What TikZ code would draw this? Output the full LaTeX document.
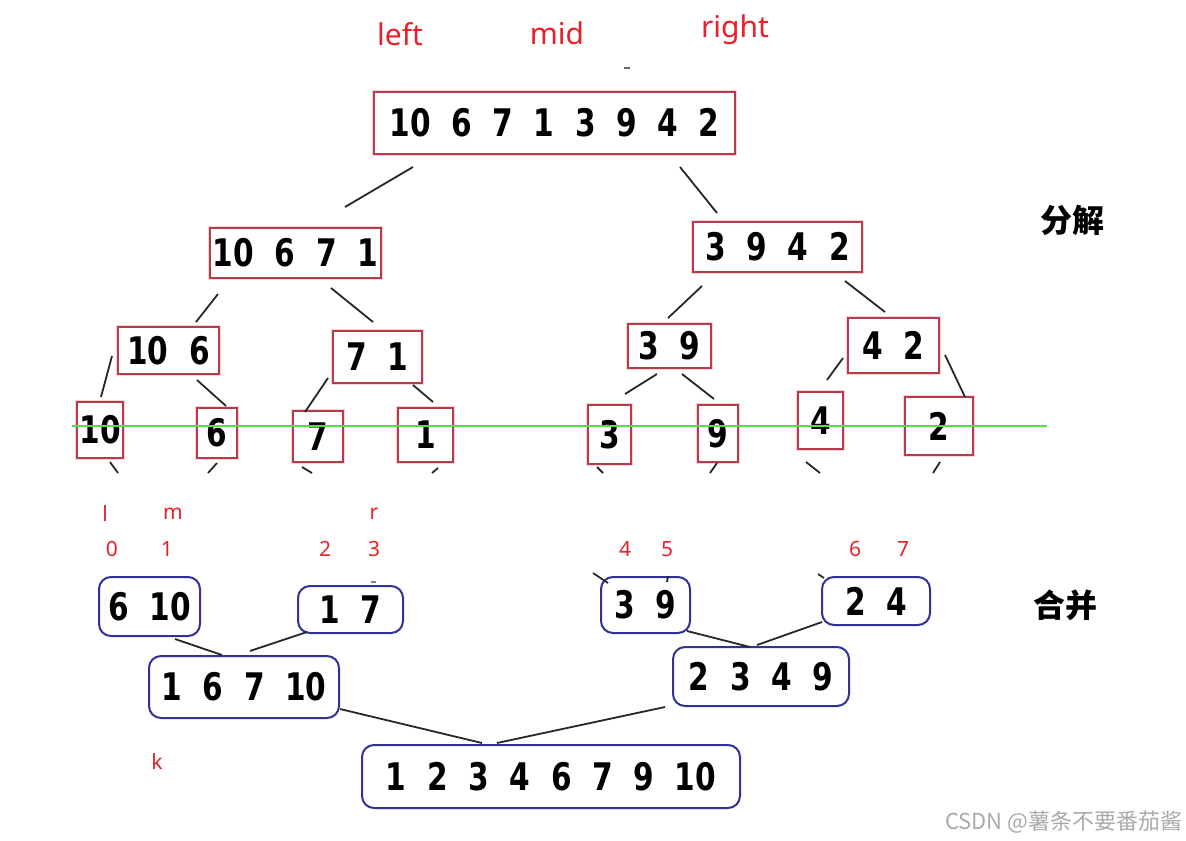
\documentclass[tikz,border=0pt]{standalone}
\usepackage{fontspec}
\setmainfont{DejaVu Sans}
\newfontfamily\dg{DejaVu Sans}[FakeStretch=0.78, WordSpace=2]
\newfontfamily\lab{Noto Sans}
\newfontfamily\cjk{Noto Sans CJK SC}
\definecolor{lred}{RGB}{232,32,40}
\definecolor{rbord}{RGB}{180,60,75}
\definecolor{rhalo}{RGB}{248,212,216}
\definecolor{bbord}{RGB}{50,50,150}
\definecolor{gline}{RGB}{80,225,70}
\definecolor{wm}{RGB}{170,170,170}
\tikzset{
  rbox/.style={draw=rbord, line width=0.9pt, preaction={draw=rhalo, line width=2.4pt},
    fill=white, inner sep=0pt, font=\dg\bfseries\fontsize{19}{19}\selectfont},
  bbox/.style={draw=bbord, line width=1pt, rounded corners=6pt, fill=white,
    inner sep=0pt, font=\dg\bfseries\fontsize{19}{19}\selectfont},
  conn/.style={line width=0.9pt, black!85},
  redlab/.style={text=lred, font=\lab\fontsize{15}{15}\selectfont, inner sep=0pt},
  idx/.style={text=lred, font=\lab\fontsize{10.5}{10.5}\selectfont, inner sep=0pt},
  zh/.style={font=\cjk\bfseries\fontsize{16}{16}\selectfont, inner sep=0pt},
}
\begin{document}
\begin{tikzpicture}[x=0.5pt, y=-0.5pt]
\useasboundingbox (0,0) rectangle (1186,840);
% top labels
\node[redlab] (lleft) at (400,34) {left};
\node[redlab] (lmid) at (557,33) {mid};
\node[redlab] (lright) at (735,30) {right};
\draw[line width=0.8pt, black!60] (624,68) coordinate (mk1) -- (630,68) coordinate (mk2);
% decomposition
\node[rbox, minimum width=180.5pt, minimum height=31pt] (top) at (554.5,123) {10 6 7 1 3 9 4 2};
\node[rbox, minimum width=85.5pt, minimum height=25pt] (L1) at (295.5,253) {10 6 7 1};
\node[rbox, minimum width=84.5pt, minimum height=25pt] (R1) at (777.5,247) {3 9 4 2};
\node[rbox, minimum width=50.5pt, minimum height=23.5pt] (a106) at (168.5,350.5) {10 6};
\node[rbox, minimum width=44.5pt, minimum height=26pt] (a71) at (377.5,357) {7 1};
\node[rbox, minimum width=41.5pt, minimum height=22pt] (a39) at (669.5,346) {3 9};
\node[rbox, minimum width=45.5pt, minimum height=27.5pt] (a42) at (893.5,345.5) {4 2};
\node[rbox, minimum width=23pt, minimum height=28pt] (l10) at (100,430) {10};
\node[rbox, minimum width=20pt, minimum height=25pt] (l6) at (217,433) {6};
\node[rbox, minimum width=25pt, minimum height=25.5pt] (l7) at (318,436.5) {7};
\node[rbox, minimum width=27.5pt, minimum height=27pt] (l1) at (425.5,435) {1};
\node[rbox, minimum width=21.5pt, minimum height=29.5pt] (l3) at (609.5,434.5) {3};
\node[rbox, minimum width=20pt, minimum height=28.5pt] (l9) at (718,433.5) {9};
\node[rbox, minimum width=22.5pt, minimum height=28.5pt] (l4) at (820.5,420.5) {4};
\node[rbox, minimum width=34pt, minimum height=29pt] (l2) at (939,426) {2};
\node[zh] (fenjie) at (1072,220) {分解};
% decomposition connectors
\draw[conn] ([shift={(-141.5,44)}]top.center) -- ([shift={(49.5,-46)}]L1.center);
\draw[conn] ([shift={(125.5,44)}]top.center) -- ([shift={(-60.5,-34)}]R1.center);
\draw[conn] ([shift={(-77.5,41)}]L1.center) -- ([shift={(27.5,-28.5)}]a106.center);
\draw[conn] ([shift={(35.5,35)}]L1.center) -- ([shift={(-4.5,-35)}]a71.center);
\draw[conn] ([shift={(-75.5,39)}]R1.center) -- ([shift={(-1.5,-28)}]a39.center);
\draw[conn] ([shift={(67.5,34)}]R1.center) -- ([shift={(-8.5,-33.5)}]a42.center);
\draw[conn] ([shift={(-56.5,5.5)}]a106.center) -- ([shift={(1,-33)}]l10.center);
\draw[conn] ([shift={(28.5,29.5)}]a106.center) -- ([shift={(9,-27)}]l6.center);
\draw[conn] ([shift={(-49.5,21)}]a71.center) -- ([shift={(-13,-24.5)}]l7.center);
\draw[conn] ([shift={(35.5,28)}]a71.center) -- ([shift={(7.5,-33)}]l1.center);
\draw[conn] ([shift={(-12.5,28)}]a39.center) -- ([shift={(15.5,-40.5)}]l3.center);
\draw[conn] ([shift={(12.5,28)}]a39.center) -- ([shift={(-4,-34.5)}]l9.center);
\draw[conn] ([shift={(-50.5,12.5)}]a42.center) -- ([shift={(6.5,-40.5)}]l4.center);
\draw[conn] ([shift={(51.5,9.5)}]a42.center) -- ([shift={(26,-29)}]l2.center);
% stubs below leaves
\draw[conn] ([shift={(10,32)}]l10.center) -- ++(8,11) coordinate (s1);
\draw[conn] ([shift={(0,30)}]l6.center) -- ++(-9,10) coordinate (s2);
\draw[conn] ([shift={(-16,30.5)}]l7.center) -- ++(10,6) coordinate (s3);
\draw[conn] ([shift={(12.5,33)}]l1.center) -- ++(-6,5) coordinate (s4);
\draw[conn] ([shift={(-12.5,32.5)}]l3.center) -- ++(6,6) coordinate (s5);
\draw[conn] ([shift={(-1,29.5)}]l9.center) -- ++(-7,10) coordinate (s6);
\draw[conn] ([shift={(-14.5,41.5)}]l4.center) -- ++(14,11) coordinate (s7);
\draw[conn] ([shift={(1,36)}]l2.center) -- ++(-7,11) coordinate (s8);
% green line
\draw[gline, line width=1.1pt] (72,426) coordinate (g1) -- (1047,426) coordinate (g2);
% index labels
\node[idx] (il) at (105,514) {l};
\node[idx] (im) at (173,514) {m};
\node[idx] (ir) at (374,514) {r};
\node[idx] (i0) at (112,549) {0};
\node[idx] (i1) at (167,549) {1};
\node[idx] (i2) at (325,549) {2};
\node[idx] (i3) at (374,549) {3};
\node[idx] (i4) at (625,549) {4};
\node[idx] (i5) at (667,549) {5};
\node[idx] (i6) at (855,549) {6};
\node[idx] (i7) at (903,549) {7};
\node[idx] (ik) at (157,762) {k};
% merge
\node[bbox, minimum width=50.5pt, minimum height=29.5pt] (m610) at (149.5,606.5) {6 10};
\node[bbox, minimum width=52.5pt, minimum height=23.5pt] (m17) at (350.5,609.5) {1 7};
\node[bbox, minimum width=95pt, minimum height=31pt] (m1) at (244,687) {1 6 7 10};
\node[bbox, minimum width=44.5pt, minimum height=28pt] (m39) at (645.5,605) {3 9};
\node[bbox, minimum width=54pt, minimum height=24pt] (m24) at (876,601) {2 4};
\node[bbox, minimum width=88pt, minimum height=29.5pt] (m2) at (761,676.5) {2 3 4 9};
\node[bbox, minimum width=189pt, minimum height=31.5pt] (mall) at (551,776.5) {1 2 3 4 6 7 9 10};
\node[zh] (hebing) at (1065,605) {合并};
% merge connectors
\draw[conn] ([shift={(25.5,32.5)}]m610.center) -- ([shift={(-22,-32)}]m1.center);
\draw[conn] ([shift={(-43.5,22.5)}]m17.center) -- ([shift={(6,-36)}]m1.center);
\draw[conn] ([shift={(96,22)}]m1.center) -- ([shift={(-69,-33.5)}]mall.center);
\draw[conn] ([shift={(41.5,26)}]m39.center) -- ([shift={(-11,-29.5)}]m2.center);
\draw[conn] ([shift={(-54,21)}]m24.center) -- ([shift={(-4,-31.5)}]m2.center);
\draw[conn] ([shift={(-96,30.5)}]m2.center) -- ([shift={(-54,-33.5)}]mall.center);
% stubs above merge boxes
\draw[conn] ([shift={(-52.5,-32)}]m39.center) -- ++(15,10) coordinate (t1);
\draw[conn] ([shift={(22.5,-29)}]m39.center) -- ++(-1,6) coordinate (t2);
\draw[conn] ([shift={(-58,-27)}]m24.center) -- ++(6,4) coordinate (t3);
\draw[line width=0.8pt, black!50] ([shift={(20.5,-27.5)}]m17.center) -- ++(5,0) coordinate (t4);
% watermark
\node[anchor=east, text=wm, font=\cjk\fontsize{11}{11}\selectfont, inner sep=0pt] (wmk) at (1183,822) {CSDN @薯条不要番茄酱};
\end{tikzpicture}
\end{document}
